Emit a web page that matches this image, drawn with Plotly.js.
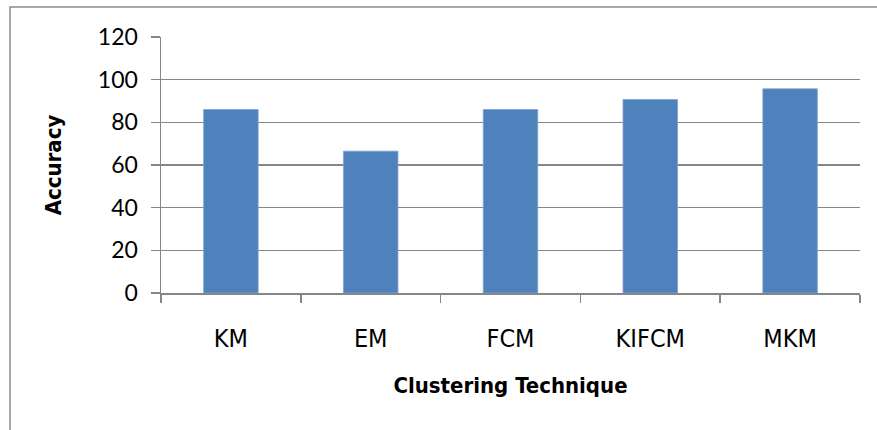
<!DOCTYPE html>
<html>
<head>
<meta charset="utf-8">
<script src="https://cdn.plot.ly/plotly-3.0.1.min.js"></script>
<style>html,body{margin:0;padding:0;background:#fff}#chart{width:877px;height:430px}</style>
</head>
<body>
<div id="chart"></div>
<script>
const categories = ["KM", "EM", "FCM", "KIFCM", "MKM"];
const accuracy = [86, 66.5, 86, 90.7, 95.7];
const yTicks = [0, 20, 40, 60, 80, 100, 120];

const trace = {
  type: "bar",
  x: categories,
  y: accuracy,
  marker: {color: "#4F81BD", line: {color: "#7FA3D0", width: 0.8}},
  hoverinfo: "x+y"
};

const layout = {
  width: 877, height: 430,
  margin: {l: 161, r: 17, t: 37, b: 137},
  paper_bgcolor: "#ffffff",
  plot_bgcolor: "#ffffff",
  showlegend: false,
  bargap: 0.61,
  xaxis: {
    type: "category",
    showgrid: false,
    showline: true, linecolor: "#868686", linewidth: 1.5,
    ticks: "outside", tickson: "boundaries", ticklen: 8, tickcolor: "#868686", tickwidth: 1.5,
    tickfont: {family: "DejaVu Sans Condensed, sans-serif", size: 25, color: "#000"},
    ticklabelstandoff: 22,
    title: {text: "Clustering Technique", font: {family: "DejaVu Sans Condensed, sans-serif", size: 22, color: "#000", weight: "bold"}, standoff: 26}
  },
  yaxis: {
    range: [0, 120],
    tickvals: yTicks,
    ticktext: yTicks.map(String),
    showgrid: true, gridcolor: "#868686", gridwidth: 1.5,
    zeroline: false,
    showline: true, linecolor: "#868686", linewidth: 1.5,
    ticks: "outside", ticklen: 9, tickcolor: "#868686", tickwidth: 1.5,
    tickfont: {family: "Lato, Open Sans, sans-serif", size: 23, color: "#000"},
    ticklabelstandoff: 8,
    title: {text: "Accuracy", font: {family: "DejaVu Sans Condensed, sans-serif", size: 22, color: "#000", weight: "bold"}, standoff: 30}
  },
  shapes: [{
    type: "rect", xref: "paper", yref: "paper",
    x0: (10 - 161) / 699, x1: 1.1, y0: -0.7, y1: (293 - 7) / 256,
    line: {color: "#8c8c8c", width: 1.5}, fillcolor: "rgba(0,0,0,0)", layer: "below"
  }]
};

Plotly.newPlot("chart", [trace], layout, {displayModeBar: false, staticPlot: true});
</script>
</body>
</html>
